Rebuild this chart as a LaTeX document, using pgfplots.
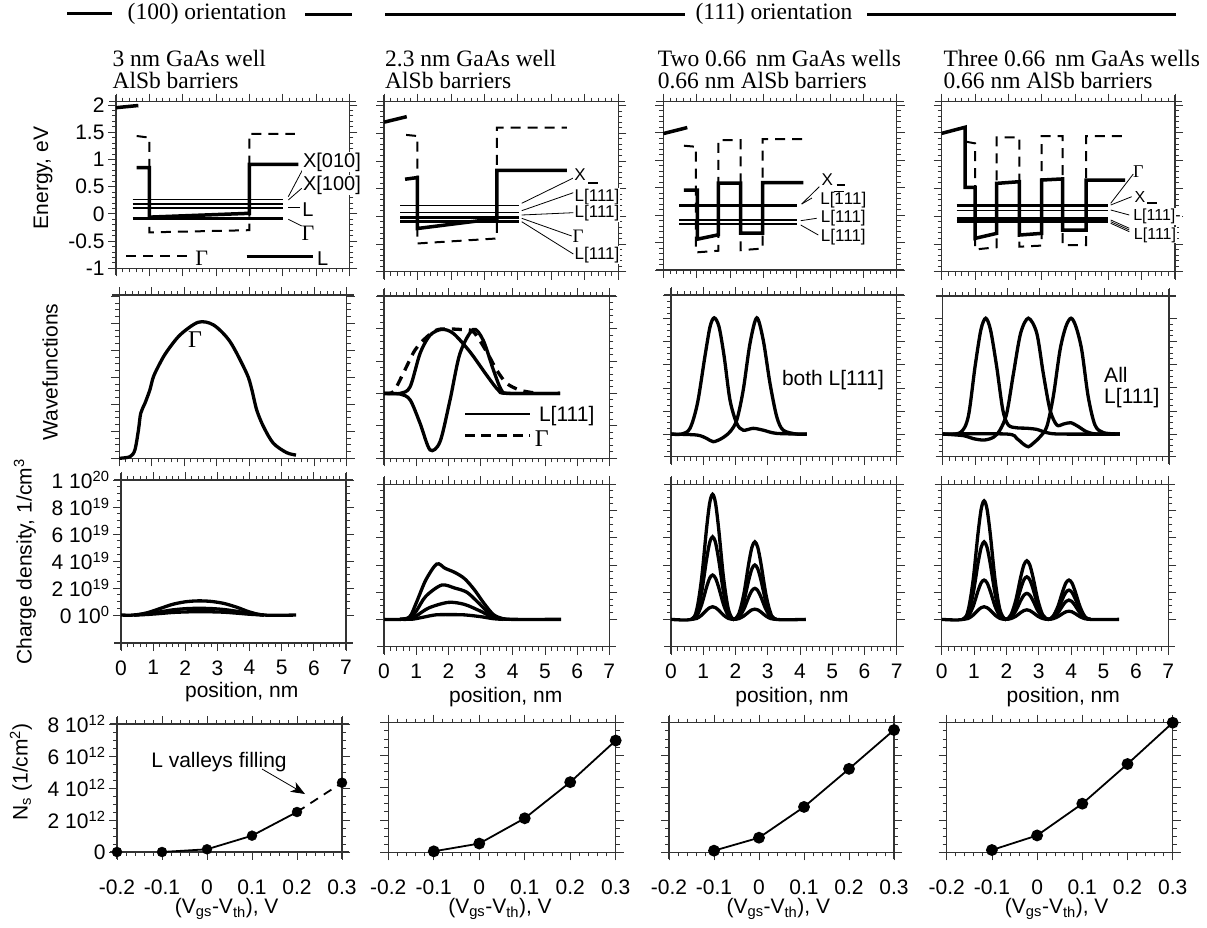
\documentclass[border=0pt]{standalone}
\usepackage{pgfplots}
\pgfplotsset{compat=1.18}
\usepackage{fontspec}
\setmainfont{Liberation Sans}
\newfontfamily\timesf{Liberation Serif}
\usetikzlibrary{arrows.meta}

\newcommand{\ar}{\fontsize{21}{24}\selectfont}
\newcommand{\sm}{\fontsize{17}{19}\selectfont}
\newcommand{\tm}{\timesf\fontsize{23.5}{20}\selectfont}

\pgfplotsset{
  igor/.style={
    scale only axis, clip=false, anchor=north west,
    tick align=outside,
    major tick length=8pt, minor tick length=4pt,
    tick style={black!80, line width=0.8pt},
    separate axis lines,
    axis line style={black!80, line width=1.1pt, shorten >=-7pt, shorten <=-7pt},
    tick label style={font=\ar},
    /pgf/number format/assume math mode=true,
  },
  posx/.style={xmin=0, xmax=7, xtick={0,...,7}, minor x tick num=4,
    xticklabel style={yshift=-6pt}},
  vx/.style={xmin=-0.2, xmax=0.3, xtick={-0.2,-0.1,0,0.1,0.2,0.3},
    xticklabels={-0.2,-0.1,0,0.1,0.2,0.3}, minor x tick num=4,
    xticklabel style={yshift=-16pt},
    ymin=0, ymax=8, ytick={0,2,4,6,8}, minor y tick num=3},
  en/.style={ytick={-1,-0.5,0,0.5,1,1.5,2}, minor y tick num=4, xticklabels={}},
  cd/.style={ytick={0,2,4,6,8,10}, minor y tick num=3},
  thk/.style={black, line width=3.5pt},
  thn/.style={black, line width=1.3pt},
  dsh/.style={black, line width=2pt, dash pattern=on 10pt off 7pt},
  wf/.style={black, line width=3.3pt, smooth, tension=0.5},
  ns/.style={black, line width=1.8pt, mark=*, mark size=5pt},
}

\begin{document}
\begin{tikzpicture}
\begin{scope}[x=1pt,y=1pt]
\useasboundingbox (0,0) rectangle (1207,-928);

% ---------------- headers
\draw[line width=3pt] (67,-14) -- (112,-14);
\node[font=\tm] at (207,-14) {(100) orientation};
\draw[line width=3pt] (305,-15) -- (352,-15);
\draw[line width=3pt] (385,-15) -- (685,-15);
\node[font=\tm] at (774,-14) {(111) orientation};
\draw[line width=3pt] (867,-15) -- (1176,-15);

\node[font=\tm, anchor=base west] at (109,-67) {3 nm GaAs well};
\node[font=\tm, anchor=base west] at (109,-89) {AlSb barriers};
\node[font=\tm, anchor=base west] at (381.7,-67) {2.3 nm GaAs well};
\node[font=\tm, anchor=base west] at (381.7,-89) {AlSb barriers};
\node[font=\tm, anchor=base west] at (654.3,-67) {Two 0.66\, nm GaAs wells};
\node[font=\tm, anchor=base west] at (654.3,-89) {0.66 nm AlSb barriers};
\node[font=\tm, anchor=base west] at (940,-67) {Three 0.66\, nm GaAs wells};
\node[font=\tm, anchor=base west] at (940,-89) {0.66 nm AlSb barriers};
\end{scope}

% ================= ROW 1: energy
\begin{axis}[igor,posx,en,at={(116pt,-101.7pt)},width=233.3pt,height=166.6pt,
  ymin=-1,ymax=2.06,yticklabels={-1,-0.5,0,0.5,1,1.5,2}]
\addplot[thk] coordinates {(0,1.95)(0.67,1.99)};
\addplot[dsh] coordinates {(0.62,1.43)(1.0,1.40)(1.0,-0.34)(4.0,-0.30)(4.0,1.47)(5.37,1.47)};
\addplot[thk] coordinates {(0.62,0.85)(1.0,0.85)(1.0,-0.06)(4.0,0.01)(4.0,0.91)(5.47,0.91)};
\addplot[thn] coordinates {(0.5,0.26)(5.02,0.26)};
\addplot[thn] coordinates {(0.5,0.18)(5.02,0.18)};
\addplot[thn] coordinates {(0.5,0.11)(5.02,0.11)};
\addplot[black,line width=3pt] coordinates {(0.5,-0.08)(5.02,-0.08)};
\end{axis}

\begin{axis}[igor,posx,en,at={(384pt,-101.7pt)},width=234.3pt,height=170pt,
  ymin=-1,ymax=2.07,yticklabels={}]
\addplot[thk] coordinates {(0,1.70)(0.68,1.80)};
\addplot[dsh] coordinates {(0.66,1.47)(1.0,1.45)(1.0,-0.49)(3.37,-0.40)(3.37,1.60)(5.46,1.60)};
\addplot[thk] coordinates {(0.63,0.67)(1.0,0.70)(1.0,-0.22)(3.37,-0.04)(3.37,0.83)(5.46,0.83)};
\addplot[thn] coordinates {(0.48,0.19)(4.04,0.19)};
\addplot[thn] coordinates {(0.48,0.07)(4.04,0.07)};
\addplot[black,line width=3pt] coordinates {(0.48,-0.02)(4.04,-0.02)};
\addplot[black,line width=3pt] coordinates {(0.48,-0.09)(4.04,-0.09)};
\end{axis}

\begin{axis}[igor,posx,en,at={(663.3pt,-101.7pt)},width=233.4pt,height=168.3pt,
  ymin=-1,ymax=2.06,yticklabels={}]
\addplot[thk] coordinates {(0,1.48)(0.72,1.59)};
\addplot[dsh] coordinates {(0.62,1.26)(0.98,1.24)(0.98,-0.68)(1.65,-0.65)(1.65,1.36)(2.32,1.36)(2.32,-0.64)(2.98,-0.61)(2.98,1.38)(4.2,1.38)};
\addplot[thk] coordinates {(0.62,0.45)(1.02,0.45)(1.02,-0.44)(1.65,-0.36)(1.65,0.58)(2.32,0.58)(2.32,-0.33)(2.98,-0.33)(2.98,0.59)(4.2,0.59)};
\addplot[black,line width=3pt] coordinates {(0.48,0.17)(4.02,0.17)};
\addplot[thn] coordinates {(0.48,-0.09)(4.02,-0.09)};
\addplot[black,line width=2.5pt] coordinates {(0.48,-0.16)(4.02,-0.16)};
\end{axis}

\begin{axis}[igor,posx,en,at={(941.7pt,-101.7pt)},width=233.3pt,height=170pt,
  ymin=-1,ymax=2.06,yticklabels={}]
\addplot[thk] coordinates {(0,1.49)(0.70,1.60)(0.70,0.52)(1.0,0.52)(1.0,-0.40)(1.65,-0.31)(1.65,0.59)(2.33,0.62)(2.33,-0.34)(3.0,-0.31)(3.0,0.65)(3.63,0.67)(3.63,-0.25)(4.33,-0.25)(4.33,0.65)(5.5,0.65)};
\addplot[dsh] coordinates {(0.73,1.34)(1.0,1.31)(1.0,-0.6)(1.65,-0.56)(1.65,1.42)(2.33,1.42)(2.33,-0.55)(3.0,-0.53)(3.0,1.44)(3.63,1.44)(3.63,-0.52)(4.33,-0.52)(4.33,1.44)(5.5,1.44)};
\addplot[black,line width=3pt] coordinates {(0.45,0.19)(5.0,0.19)};
\addplot[thn] coordinates {(0.45,0.10)(5.0,0.10)};
\addplot[black,line width=3pt] coordinates {(0.45,-0.04)(5.0,-0.04)};
\addplot[black,line width=3pt] coordinates {(0.45,-0.10)(5.0,-0.10)};
\end{axis}

% energy annotations
\begin{scope}[x=1pt,y=1pt,line width=0.8pt]
\draw (288.3,-196.7) -- (303.3,-168.3);
\draw (288.3,-200) -- (301.7,-188.3);
\draw (288.3,-207.3) -- (300,-207.3);
\draw (288.3,-219.3) -- (301.7,-226);
\node[font=\fontsize{20}{22}\selectfont, fill=white, inner sep=1pt] at (332,-162) {X[010]};
\node[font=\fontsize{20}{22}\selectfont, fill=white, inner sep=1pt] at (332,-185) {X[100]};
\node[font=\fontsize{20}{22}\selectfont, fill=white, inner sep=1pt] at (308,-210) {L};
\node[font=\timesf\fontsize{22}{22}\selectfont, inner sep=1pt] at (308,-233) {Γ};
\draw[line width=2pt, dash pattern=on 10pt off 7pt] (126,-256) -- (193.3,-256);
\node[font=\timesf\fontsize{22}{22}\selectfont] at (201.7,-258.3) {Γ};
\draw[line width=3.5pt] (246.7,-256.7) -- (313.3,-256.7);
\node[font=\fontsize{20}{22}\selectfont] at (322.7,-258.3) {L};

\draw (521.7,-203.3) -- (576,-176.7);
\draw (521.7,-210.7) -- (573.3,-192.7);
\draw (521.7,-215) -- (573.3,-212.7);
\draw (521.7,-218.3) -- (571.7,-236);
\draw (521.7,-221.7) -- (573.3,-254);
\node[font=\sm, fill=white, inner sep=1pt] at (580,-175) {X};
\draw[line width=2pt] (588,-183) -- (598,-183);
\node[font=\sm, fill=white, inner sep=1pt] at (597,-197.3) {L[111]};
\node[font=\sm, fill=white, inner sep=1pt] at (597,-213.3) {L[111]};
\node[font=\timesf\fontsize{19}{20}\selectfont, inner sep=1pt] at (578,-236.7) {Γ};
\node[font=\sm, fill=white, inner sep=1pt] at (597,-255) {L[111]};

\draw (801.7,-204) -- (819.3,-186.7);
\draw (801.7,-204) -- (812,-198);
\draw (800.7,-220.7) -- (816.7,-218.3);
\draw (800.7,-225) -- (818.3,-235);
\node[font=\sm, inner sep=1pt] at (827.3,-180) {X};
\draw[line width=2pt] (836.7,-185.3) -- (845,-185.3);
\node[font=\sm, inner sep=1pt] at (843.3,-199.3) {L[$\overline{\mbox{1}}$11]};
\node[font=\sm, inner sep=1pt] at (843.3,-218.3) {L[111]};
\node[font=\sm, inner sep=1pt] at (843.3,-237.3) {L[111]};

\draw (1110.7,-203.3) -- (1133.3,-174);
\draw (1110.7,-205) -- (1131.7,-196.7);
\draw (1110.7,-210) -- (1129.3,-215);
\draw (1110.7,-220) -- (1129.3,-228.3);
\draw (1110.7,-221.7) -- (1129.3,-230);
\draw (1110.7,-223.3) -- (1129.3,-231.7);
\node[font=\timesf\fontsize{18}{20}\selectfont, inner sep=1pt] at (1138.3,-171.7) {Γ};
\node[font=\fontsize{16}{18}\selectfont, inner sep=1pt] at (1140,-196.7) {X};
\draw[line width=2pt] (1147.3,-202.7) -- (1156.7,-202.7);
\node[font=\fontsize{16}{18}\selectfont, fill=white, inner sep=1pt] at (1157,-216.7) {L[111]-};
\node[font=\fontsize{16}{18}\selectfont, fill=white, inner sep=1pt] at (1155,-235) {L[111]};
\end{scope}

% ================= ROW 2: wavefunctions
\begin{axis}[igor,posx,at={(119.3pt,-295pt)},width=227.4pt,height=163.3pt,
  ymin=0,ymax=6.05,ytick={0,...,6},minor y tick num=3,xticklabels={},yticklabels={}]
\addplot[wf] coordinates {(0,0)(0.33,0.06)(0.48,0.31)(0.59,1.05)(0.66,1.67)(0.79,2.04)(0.94,2.53)(1.05,3.02)(1.25,3.52)(1.46,3.95)(1.87,4.57)(2.43,5.04)(2.9,4.94)(3.41,4.32)(3.92,3.15)(4.07,2.59)(4.23,1.79)(4.44,1.17)(4.74,0.56)(5.15,0.21)(5.44,0.12)};
\end{axis}

\begin{axis}[igor,posx,at={(384pt,-296pt)},width=225.3pt,height=162.3pt,
  ymin=-2,ymax=3,ytick={-2,...,3},minor y tick num=4,xticklabels={},yticklabels={}]
\addplot[wf] coordinates {(0,0)(0.5,0)(0.81,0.2)(1.12,1.23)(1.43,1.79)(1.79,1.97)(2.15,1.85)(2.67,1.28)(3.19,0.56)(3.55,0.10)(3.81,0)(5.47,0)};
\addplot[wf] coordinates {(0,0)(0.5,-0.02)(0.81,-0.2)(1.12,-0.92)(1.43,-1.74)(1.74,-1.49)(2.05,-0.21)(2.36,1.23)(2.77,1.97)(3.08,1.64)(3.4,0.72)(3.65,0.1)(3.91,0)(5.47,0)};
\addplot[wf, dash pattern=on 10pt off 7pt] coordinates {(0,0)(0.29,0.05)(0.6,0.62)(0.96,1.33)(1.33,1.74)(1.69,1.97)(2.36,1.97)(2.77,1.9)(3.19,1.28)(3.5,0.72)(3.81,0.31)(4.22,0.1)(4.64,0.02)};
\end{axis}

\begin{axis}[igor,posx,at={(671pt,-295pt)},width=225.7pt,height=161.7pt,
  ymin=-0.98,ymax=6.03,ytick={-1,...,6},minor y tick num=3,xticklabels={},yticklabels={}]
\addplot[wf] coordinates {(0,0)(0.33,0)(0.59,0.25)(0.82,1.33)(1.05,3.35)(1.21,4.65)(1.34,5.04)(1.49,4.65)(1.65,3.35)(1.83,1.47)(2.04,0.46)(2.24,0.17)(2.55,0.25)(2.86,0.17)(3.28,0.03)(4.21,0)};
\addplot[wf] coordinates {(0,0)(0.8,-0.04)(1.11,-0.19)(1.31,-0.33)(1.57,-0.19)(1.83,0.1)(2.04,0.61)(2.24,1.91)(2.45,3.93)(2.66,5.04)(2.86,4.08)(3.07,2.2)(3.28,0.75)(3.48,0.17)(3.9,0)(4.21,0)};
\end{axis}

\begin{axis}[igor,posx,at={(942.7pt,-296pt)},width=226.3pt,height=160.7pt,
  ymin=-0.98,ymax=5.97,ytick={-1,...,5},minor y tick num=3,xticklabels={},yticklabels={}]
\addplot[wf] coordinates {(0,0)(0.54,0.06)(0.79,0.75)(1.0,2.91)(1.18,4.5)(1.33,5.01)(1.48,4.5)(1.67,2.91)(1.86,1.04)(2.03,0.39)(2.29,0.27)(2.6,0.25)(2.91,0.2)(3.22,0.06)(3.63,0)(5.48,0)};
\addplot[wf] coordinates {(0,0)(0.64,-0.07)(0.95,-0.2)(1.28,-0.26)(1.57,-0.14)(1.77,0.17)(1.98,0.89)(2.19,2.63)(2.41,4.36)(2.65,5.01)(2.91,4.36)(3.11,2.63)(3.32,1.04)(3.53,0.39)(3.73,0.43)(3.96,0.49)(4.2,0.32)(4.45,0.1)(4.76,0)(5.48,0)};
\addplot[wf] coordinates {(0,0)(1.98,0)(2.29,-0.19)(2.49,-0.43)(2.65,-0.55)(2.8,-0.4)(3.01,-0.12)(3.22,0.32)(3.42,1.62)(3.63,3.64)(3.81,4.65)(3.97,5.01)(4.12,4.65)(4.3,3.64)(4.5,1.62)(4.71,0.39)(4.97,0.06)(5.48,0)};
\end{axis}

% ================= ROW 3: charge density
\begin{axis}[igor,posx,cd,at={(121pt,-480pt)},width=225pt,height=163pt,
  ymin=-2.07,ymax=10,
  yticklabels={{0 10\textsuperscript{0}},{2 10\textsuperscript{19}},{4 10\textsuperscript{19}},{6 10\textsuperscript{19}},{8 10\textsuperscript{19}},{1 10\textsuperscript{20}}}]
\addplot[wf] coordinates {(0,0)(0.4,0)(0.8,0.16)(1.2,0.47)(1.6,0.79)(2.0,0.98)(2.4,1.05)(2.8,1.01)(3.2,0.86)(3.6,0.58)(4.0,0.23)(4.45,0)(5.45,0)};
\addplot[wf] coordinates {(0.4,0)(0.8,0.08)(1.2,0.23)(1.6,0.38)(2.0,0.47)(2.4,0.5)(2.8,0.48)(3.2,0.41)(3.6,0.28)(4.0,0.11)(4.45,0)};
\addplot[wf] coordinates {(0.4,0)(0.8,0.04)(1.2,0.11)(1.6,0.19)(2.0,0.23)(2.4,0.25)(2.8,0.24)(3.2,0.21)(3.6,0.14)(4.0,0.06)(4.45,0)};
\end{axis}

\begin{axis}[igor,posx,cd,at={(384pt,-484.3pt)},width=225.3pt,height=162.4pt,
  ymin=-2.01,ymax=9.93,yticklabels={}]
\addplot[wf] coordinates {(0,0)(0.5,0)(0.8,0.2)(1.0,1.2)(1.3,2.9)(1.64,4.07)(1.9,3.75)(2.2,3.45)(2.5,3.0)(2.8,2.2)(3.1,1.2)(3.4,0.35)(3.7,0.05)(4.0,0)(5.5,0)};
\addplot[wf] coordinates {(0.5,0)(0.8,0.1)(1.0,0.6)(1.3,1.7)(1.79,2.52)(2.2,2.3)(2.57,2.0)(2.9,1.3)(3.2,0.6)(3.5,0.15)(3.8,0)};
\addplot[wf] coordinates {(0.5,0)(0.8,0.05)(1.0,0.25)(1.4,0.85)(2.0,1.25)(2.5,1.1)(3.0,0.6)(3.3,0.25)(3.6,0.05)(3.9,0)};
\addplot[wf] coordinates {(0.6,0)(0.9,0.02)(1.2,0.15)(1.6,0.33)(2.0,0.35)(2.5,0.33)(3.0,0.2)(3.4,0.05)(3.7,0)};
\end{axis}

\begin{axis}[igor,posx,cd,at={(671pt,-484.3pt)},width=225.7pt,height=162.4pt,
  ymin=-2.01,ymax=9.93,yticklabels={}]
\addplot[wf] coordinates {(0,0)(0.63,0)(0.80,0.74)(0.95,3.04)(1.10,6.62)(1.20,8.56)(1.29,9.2)(1.38,8.56)(1.48,6.62)(1.63,3.04)(1.78,0.74)(1.94,0)(2.11,0.46)(2.26,1.88)(2.41,4.10)(2.51,5.30)(2.6,5.7)(2.69,5.30)(2.79,4.10)(2.94,1.88)(3.09,0.46)(3.26,0)(4.18,0)};
\addplot[wf] coordinates {(0.63,0)(0.80,0.49)(0.95,2.0)(1.10,4.37)(1.20,5.65)(1.29,6.07)(1.38,5.65)(1.48,4.37)(1.63,2.0)(1.78,0.49)(1.94,0)(2.11,0.32)(2.26,1.32)(2.41,2.88)(2.51,3.72)(2.6,4.0)(2.69,3.72)(2.79,2.88)(2.94,1.32)(3.09,0.32)(3.26,0)};
\addplot[wf] coordinates {(0.63,0)(0.80,0.26)(0.95,1.08)(1.10,2.35)(1.20,3.03)(1.29,3.26)(1.38,3.03)(1.48,2.35)(1.63,1.08)(1.78,0.26)(1.94,0)(2.11,0.18)(2.26,0.75)(2.41,1.64)(2.51,2.12)(2.6,2.28)(2.69,2.12)(2.79,1.64)(2.94,0.75)(3.09,0.18)(3.26,0)};
\addplot[wf] coordinates {(0.63,0)(0.80,0.07)(0.95,0.31)(1.10,0.67)(1.20,0.86)(1.29,0.93)(1.38,0.86)(1.48,0.67)(1.63,0.31)(1.78,0.07)(1.94,0)(2.11,0.06)(2.26,0.25)(2.41,0.54)(2.51,0.70)(2.6,0.75)(2.69,0.70)(2.79,0.54)(2.94,0.25)(3.09,0.06)(3.26,0)};
\end{axis}

\begin{axis}[igor,posx,cd,at={(941.7pt,-484.3pt)},width=226.6pt,height=162.4pt,
  ymin=-2.01,ymax=9.93,yticklabels={}]
\addplot[wf] coordinates {(0,0)(0.65,0)(0.82,0.70)(0.97,2.88)(1.12,6.28)(1.22,8.11)(1.31,8.72)(1.40,8.11)(1.50,6.28)(1.65,2.88)(1.80,0.70)(1.97,0)(2.14,0.34)(2.29,1.42)(2.44,3.10)(2.54,4.01)(2.63,4.31)(2.72,4.01)(2.82,3.10)(2.97,1.42)(3.12,0.34)(3.29,0)(3.44,0.23)(3.59,0.95)(3.74,2.08)(3.84,2.69)(3.93,2.89)(4.02,2.69)(4.12,2.08)(4.27,0.95)(4.42,0.23)(4.59,0)(5.48,0)};
\addplot[wf] coordinates {(0.65,0)(0.82,0.46)(0.97,1.88)(1.12,4.10)(1.22,5.30)(1.31,5.7)(1.40,5.30)(1.50,4.10)(1.65,1.88)(1.80,0.46)(1.97,0)(2.14,0.25)(2.29,1.03)(2.44,2.25)(2.54,2.91)(2.63,3.13)(2.72,2.91)(2.82,2.25)(2.97,1.03)(3.12,0.25)(3.29,0)(3.44,0.17)(3.59,0.71)(3.74,1.55)(3.84,2.0)(3.93,2.15)(4.02,2.0)(4.12,1.55)(4.27,0.71)(4.42,0.17)(4.59,0)};
\addplot[wf] coordinates {(0.65,0)(0.82,0.23)(0.97,0.95)(1.12,2.08)(1.22,2.69)(1.31,2.89)(1.40,2.69)(1.50,2.08)(1.65,0.95)(1.80,0.23)(1.97,0)(2.14,0.15)(2.29,0.63)(2.44,1.38)(2.54,1.78)(2.63,1.91)(2.72,1.78)(2.82,1.38)(2.97,0.63)(3.12,0.15)(3.29,0)(3.44,0.11)(3.59,0.47)(3.74,1.02)(3.84,1.32)(3.93,1.42)(4.02,1.32)(4.12,1.02)(4.27,0.47)(4.42,0.11)(4.59,0)};
\addplot[wf] coordinates {(0.65,0)(0.82,0.07)(0.97,0.31)(1.12,0.67)(1.22,0.86)(1.31,0.93)(1.40,0.86)(1.50,0.67)(1.65,0.31)(1.80,0.07)(1.97,0)(2.14,0.06)(2.29,0.23)(2.44,0.50)(2.54,0.65)(2.63,0.7)(2.72,0.65)(2.82,0.50)(2.97,0.23)(3.12,0.06)(3.29,0)(3.44,0.05)(3.59,0.20)(3.74,0.43)(3.84,0.56)(3.93,0.6)(4.02,0.56)(4.12,0.43)(4.27,0.20)(4.42,0.05)(4.59,0)};
\end{axis}

% ================= ROW 4: sheet density
\begin{axis}[igor,vx,at={(117pt,-724pt)},width=225pt,height=128pt,
  yticklabels={0,{2 10\textsuperscript{12}},{4 10\textsuperscript{12}},{6 10\textsuperscript{12}},{8 10\textsuperscript{12}}}]
\addplot[black, line width=1.8pt] coordinates {(-0.1,0)(0,0.17)(0.1,1.02)(0.2,2.5)};
\addplot[black, line width=1.8pt, dash pattern=on 9pt off 7pt] coordinates {(0.2,2.5)(0.3,4.33)};
\addplot[black, only marks, mark=*, mark size=5pt] coordinates {(-0.2,0)(-0.1,0)(0,0.17)(0.1,1.02)(0.2,2.5)(0.3,4.33)};
\end{axis}

\begin{axis}[igor,vx,at={(388.3pt,-722.7pt)},width=227.4pt,height=129.6pt,yticklabels={}]
\addplot[ns] coordinates {(-0.1,0.06)(0,0.54)(0.1,2.1)(0.2,4.33)(0.3,6.9)};
\end{axis}
\begin{axis}[igor,vx,at={(669pt,-722.7pt)},width=225pt,height=129.6pt,yticklabels={}]
\addplot[ns] coordinates {(-0.1,0.1)(0,0.9)(0.1,2.8)(0.2,5.15)(0.3,7.55)};
\end{axis}
\begin{axis}[igor,vx,at={(946.7pt,-722.7pt)},width=226pt,height=129.6pt,yticklabels={}]
\addplot[ns] coordinates {(-0.1,0.14)(0,1.04)(0.1,3.0)(0.2,5.45)(0.3,8.0)};
\end{axis}

% ================= labels and notes
\begin{scope}[x=1pt,y=1pt]
\node[font=\timesf\fontsize{24}{24}\selectfont] at (195,-339.3) {Γ};
\draw[line width=2pt] (465,-414) -- (530,-414);
\node[font=\ar] at (566.7,-416) {L[111]};
\draw[line width=2.5pt, dash pattern=on 10pt off 6pt] (465,-435.7) -- (530,-435.7);
\node[font=\timesf\fontsize{24}{24}\selectfont] at (541.7,-439) {Γ};
\node[font=\ar] at (833,-380) {both L[111]};
\node[font=\ar, anchor=west] at (1100.7,-375) {All};
\node[font=\ar, anchor=west] at (1100.7,-398) {L[111]};
\node[font=\ar] at (219,-762) {L valleys filling};
\draw[line width=0.8pt, -{Stealth[length=14pt, width=11pt, inset=4pt]}] (262,-769) -- (305,-794);

\node[font=\ar, rotate=90] at (43,-178) {Energy, eV};
\node[font=\ar, rotate=90] at (50,-372) {Wavefunctions};
\node[font=\ar, rotate=90] at (25,-562) {Charge density, 1/cm\textsuperscript{3}};
\node[font=\ar, rotate=90] at (21,-772) {N\textsubscript{s} (1/cm\textsuperscript{2})};
\foreach \cx/\cy in {241.7/692, 505.7/697, 792/697, 1063.3/697}
  \node[font=\ar] at (\cx,-\cy) {position, nm};
\foreach \cx in {226.7, 500, 778.3, 1056.7}
  \node[font=\ar] at (\cx,-909) {(V\textsubscript{gs}-V\textsubscript{th}), V};
\end{scope}
\end{tikzpicture}
\end{document}
